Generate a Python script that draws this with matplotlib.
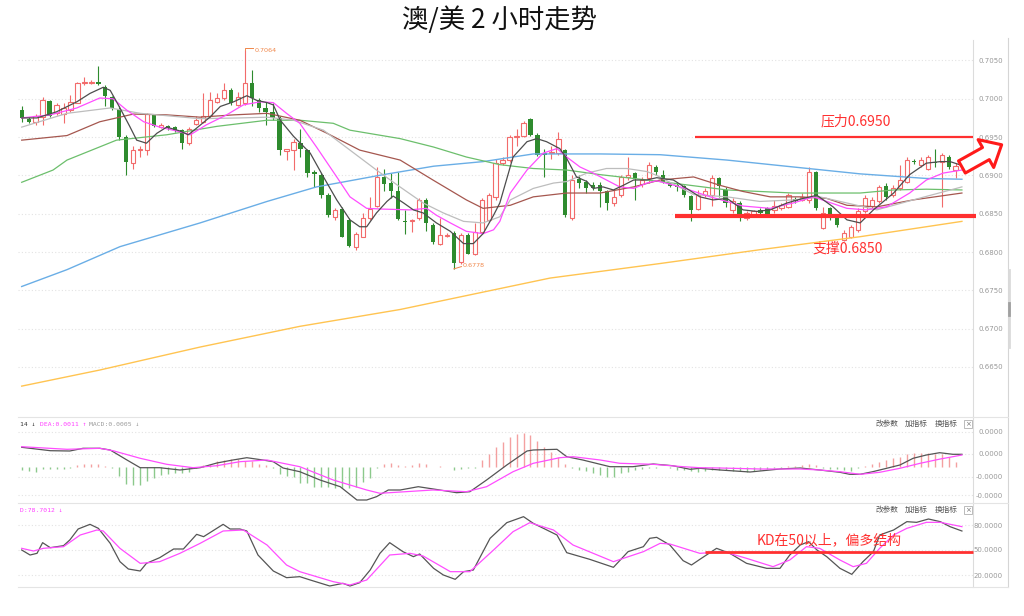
import numpy as np
import matplotlib
matplotlib.use('Agg')
import matplotlib.pyplot as plt

plt.rcParams['font.family'] = ['Noto Sans CJK SC', 'DejaVu Sans']

# ---- AUD/USD 2h candles, oldest on the left
opens = [.6985, .6974, .6970, .6976, .6997, .6981, .6980, .6985, .6995, .7020,
         .7020, .7022, .7016, .7002, .6986, .6950, .6916, .6933, .6933, .6979,
         .6963, .6965, .6963, .6959, .6942, .6967, .6970, .6977, .6996, .7001,
         .7011, .6992, .6994, .7020, .6998, .6988, .6983, .6975, .6932, .6933,
         .6942, .6933, .6905, .6900, .6874, .6846, .6856, .6842, .6807, .6820,
         .6844, .6860, .6898, .6890, .6880, .6841, .6841, .6844, .6868, .6835,
         .6811, .6821, .6825, .6787, .6822, .6798, .6826, .6842, .6872, .6916,
         .6920, .6950, .6951, .6973, .6953, .6929, .6929, .6929, .6933, .6844,
         .6895, .6892, .6887, .6887, .6879, .6864, .6874, .6898, .6903, .6889,
         .6896, .6911, .6900, .6890, .6887, .6886, .6873, .6856, .6874, .6874,
         .6896, .6881, .6855, .6864, .6844, .6848, .6855, .6857, .6855, .6857,
         .6859, .6869, .6868, .6868, .6905, .6831, .6857, .6844, .6816, .6820,
         .6829, .6853, .6860, .6866, .6886, .6874, .6883, .6892, .6919, .6914,
         .6909, .6918, .6918, .6924, .6907]
highs = [.6990, .6976, .6980, .7002, .6998, .6994, .6994, .7005, .7022, .7028,
         .7024, .7043, .7018, .7003, .6990, .6953, .6938, .6938, .6982, .6980,
         .6968, .6966, .6965, .6960, .6963, .6977, .7007, .7009, .7007, .7020,
         .7014, .7009, .7064, .7038, .7001, .6996, .6994, .6977, .6935, .6948,
         .6961, .6935, .6907, .6903, .6877, .6857, .6859, .6844, .6826, .6851,
         .6872, .6911, .6909, .6903, .6905, .6855, .6843, .6871, .6870, .6838,
         .6844, .6825, .6827, .6825, .6825, .6838, .6870, .6877, .6922, .6924,
         .6953, .6960, .6971, .6975, .6955, .6934, .6938, .6957, .6934, .6901,
         .6901, .6894, .6891, .6892, .6881, .6881, .6901, .6924, .6905, .6898,
         .6918, .6914, .6907, .6892, .6892, .6887, .6874, .6881, .6883, .6901,
         .6898, .6885, .6870, .6866, .6853, .6855, .6857, .6859, .6868, .6864,
         .6877, .6872, .6877, .6911, .6906, .6859, .6859, .6848, .6829, .6835,
         .6857, .6874, .6872, .6887, .6890, .6887, .6914, .6924, .6921, .6924,
         .6926, .6935, .6929, .6927, .6916]
lows = [.6970, .6968, .6966, .6966, .6976, .6979, .6968, .6983, .6994, .7018,
        .7019, .7018, .6990, .6985, .6946, .6901, .6909, .6924, .6927, .6963,
        .6962, .6959, .6957, .6935, .6940, .6966, .6968, .6975, .6994, .6998,
        .6992, .6990, .6992, .6990, .6983, .6966, .6972, .6927, .6920, .6907,
        .6924, .6898, .6885, .6870, .6846, .6842, .6819, .6807, .6803, .6819,
        .6842, .6859, .6879, .6870, .6842, .6824, .6826, .6842, .6827, .6811,
        .6809, .6819, .6778, .6785, .6797, .6796, .6825, .6840, .6868, .6914,
        .6918, .6938, .6950, .6951, .6925, .6898, .6922, .6927, .6846, .6842,
        .6883, .6877, .6881, .6859, .6855, .6860, .6872, .6894, .6868, .6885,
        .6890, .6900, .6890, .6885, .6879, .6872, .6840, .6855, .6872, .6860,
        .6872, .6859, .6851, .6840, .6842, .6846, .6848, .6846, .6851, .6855,
        .6857, .6864, .6866, .6864, .6855, .6830, .6842, .6833, .6814, .6818,
        .6826, .6851, .6858, .6864, .6868, .6872, .6881, .6890, .6915, .6911,
        .6907, .6911, .6859, .6909, .6896]
closes = [.6975, .6970, .6977, .6999, .6977, .6992, .6988, .6996, .7021, .7022,
          .7022, .7019, .7003, .6988, .6950, .6918, .6933, .6935, .6980, .6965,
          .6966, .6962, .6959, .6942, .6960, .6972, .6977, .6998, .7001, .7011,
          .6994, .7002, .7021, .7001, .6988, .6983, .6975, .6933, .6934, .6943,
          .6934, .6903, .6902, .6874, .6848, .6855, .6820, .6808, .6824, .6844,
          .6856, .6898, .6889, .6880, .6843, .6839, .6842, .6868, .6838, .6813,
          .6822, .6822, .6786, .6822, .6798, .6826, .6868, .6874, .6916, .6920,
          .6950, .6951, .6969, .6953, .6927, .6927, .6931, .6948, .6848, .6894,
          .6890, .6883, .6883, .6879, .6864, .6872, .6898, .6901, .6896, .6894,
          .6914, .6905, .6892, .6886, .6885, .6874, .6855, .6874, .6879, .6896,
          .6886, .6864, .6866, .6848, .6851, .6853, .6851, .6850, .6860, .6861,
          .6874, .6866, .6872, .6905, .6857, .6851, .6848, .6835, .6825, .6833,
          .6853, .6870, .6868, .6885, .6872, .6883, .6894, .6920, .6917, .6920,
          .6924, .6916, .6927, .6911, .6912]

# moving averages (bar index, price)
ma5_x = [0, 2.2, 5.0, 7.9, 9.8, 11.7, 12.7, 14.1, 15.5, 16.5, 17.9, 19.4, 20.8, 22.7, 23.9,
         24.6, 27.0, 28.5, 30.4, 32.3, 33.7, 35.2, 36.1, 37.1, 39.0, 41.4, 43.3, 45.2, 47.1, 48.5,
         49.5, 50.9, 52.4, 53.3, 54.8, 56.2, 57.6, 59.5, 61.5, 63.4, 64.8, 66.2, 67.7, 68.6, 70.5,
         72.5, 73.9, 75.3, 77.2, 78.2, 79.6, 81.1, 82.0, 83.4, 84.9, 86.3, 87.8, 89.7, 91.1, 93.5,
         95.4, 97.3, 99.2, 101.2, 103.5, 105.5, 107.4, 109.8, 112.1, 114.1, 116.4, 118.4, 120.3,
         122.2, 125.1, 127.4, 129.8, 131.8, 133.2, 134.9]
ma5_y = [.6975, .6975, .6983, .6996, .7007, .7015, .7011, .6988, .6964, .6946, .6942, .6955, .6963, .6958, .6953,
         .6958, .6976, .6990, .6996, .7004, .6998, .6995, .6992, .6972, .6951, .6929, .6898, .6868, .6842, .6833,
         .6833, .6851, .6866, .6873, .6864, .6855, .6851, .6838, .6827, .6811, .6811, .6824, .6848, .6864, .6924,
         .6944, .6948, .6944, .6935, .6922, .6898, .6892, .6883, .6885, .6881, .6887, .6894, .6894, .6897, .6894,
         .6883, .6872, .6868, .6870, .6855, .6853, .6855, .6864, .6870, .6874, .6859, .6842, .6838,
         .6855, .6877, .6901, .6916, .6918, .6918, .6913]
ma10_x = [0, 4.1, 7.9, 11.2, 13.1, 15.1, 17.5, 19.8, 22.2, 24.2, 26.5, 29.4, 31.8, 34.2, 36.1,
          38.0, 39.9, 42.3, 45.2, 47.1, 49.5, 51.9, 55.7, 58.1, 59.5, 61.5, 63.8, 66.2, 67.7, 68.6,
          70.1, 72.5, 74.8, 76.8, 78.2, 80.1, 82.0, 83.9, 85.8, 87.8, 89.7, 91.1, 94.5, 98.8, 103.5,
          107.4, 110.7, 113.6, 115.5, 118.4, 121.2, 124.1, 127.4, 129.8, 132.2, 134.9]
ma10_y = [.6975, .6979, .6988, .7001, .7000, .6985, .6970, .6963, .6958, .6953, .6966, .6979, .6992, .6996, .6995,
          .6981, .6968, .6937, .6898, .6872, .6857, .6856, .6855, .6857, .6848, .6838, .6827, .6824, .6829, .6840,
          .6877, .6907, .6929, .6935, .6924, .6911, .6903, .6894, .6885, .6883, .6890, .6893, .6885, .6872, .6860,
          .6857, .6864, .6872, .6866, .6857, .6855, .6859, .6877, .6894, .6903, .6907]
ma20_x = [0, 6.5, 12.7, 17.0, 25.6, 31.3, 35.2, 39.0, 43.3, 47.1, 50.9, 53.8, 57.6, 60.5, 63.4,
          66.2, 68.6, 70.1, 73.4, 76.3, 78.2, 81.1, 83.9, 86.8, 89.7, 91.1, 96.4, 101.2, 105.9, 110.7,
          114.5, 118.4, 122.7, 127.9, 134.9]
ma20_y = [.6963, .6981, .6988, .6981, .6974, .6975, .6976, .6972, .6959, .6933, .6907, .6888, .6864, .6851, .6840,
          .6838, .6846, .6868, .6883, .6890, .6892, .6903, .6909, .6909, .6905, .6900, .6875, .6872, .6866, .6868,
          .6872, .6864, .6855, .6868, .6885]
ma30_x = [0, 6.5, 11.2, 16.0, 20.8, 25.6, 30.4, 35.2, 39.9, 43.8, 48.5, 54.3, 59.0, 63.8, 66.2,
          70.1, 73.4, 78.2, 83.0, 87.8, 91.6, 96.4, 100.2, 103.5, 107.4, 111.7, 115.5, 118.4, 122.7, 127.9,
          134.9]
ma30_y = [.6946, .6952, .6970, .6980, .6979, .6976, .6979, .6981, .6972, .6955, .6933, .6920, .6894, .6868, .6857,
          .6861, .6872, .6877, .6877, .6885, .6894, .6898, .6887, .6879, .6872, .6872, .6870, .6861, .6859, .6868,
          .6877]
ma60_x = [0, 4.5, 6.5, 13.6, 20.8, 28.0, 35.2, 39.9, 44.7, 47.1, 54.3, 59.1, 63.8, 68.6, 73.4,
          78.2, 83.0, 87.8, 91.6, 101.2, 110.7, 120.3, 125.1, 129.8, 134.9]
ma60_y = [.6891, .6907, .6920, .6946, .6953, .6964, .6972, .6972, .6968, .6959, .6948, .6937, .6924, .6914, .6909,
          .6907, .6901, .6896, .6892, .6881, .6877, .6877, .6881, .6882, .6881]
ma120_x = [0, 6.5, 14.1, 25.6, 35.2, 42.3, 51.9, 59.1, 66.2, 73.4, 83.0, 91.6, 101.2, 110.7, 120.3, 129.8, 134.9]
ma120_y = [.6755, .6777, .6807, .6838, .6866, .6885, .6901, .6912, .6918, .6928, .6928, .6927, .6920, .6911,
           .6902, .6896, .6895]
ma250_x = [0, 11.2, 25.6, 39.9, 54.3, 75.8, 91.6, 105.9, 120.3, 134.9]
ma250_y = [.6625, .6646, .6676, .6703, .6725, .6766, .6785, .6803, .6820, .6840]

# MACD panel (units of 0.00001)
macd_hist = [-3.7, -4.3, -5, -2.7, -2.7, -2.7, -2.7, -1.7, 1.7, 2.3,
             3, 2.3, 0.5, -1.7, -9.3, -17, -18.3, -18.7, -14.3, -11,
             -8.3, -7, -6, -6, -5, -1, 1.7, 3, 5.7, 6.3,
             7.3, 7.3, 5.7, 5.7, 3, 1.7, -1, -7, -9.3, -10.3,
             -16.7, -16.7, -20, -20, -20, -21, -21, -21.7, -20, -15,
             -11.7, -1.7, 2.3, 3.3, 1.7, 1, 1.7, 4, 2.3, 0,
             0.7, 0, -3.3, -2.3, -1.7, -1, 6.7, 12.3, 20, 25,
             30, 32.3, 33.3, 31.7, 25.7, 20, 15, 10, 2.3, -1.7,
             -3.3, -4.3, -6.7, -8.3, -10, -10, -6.7, -5, -3.3, -2.3,
             -1.7, -1, -0.7, -1.7, -3.3, -3.3, -4.3, -5, -4.5, -3.5,
             -3, -3.5, -4, -4.5, -5, -4.5, -3.5, -2.5, -1.5, -1,
             0.5, 1, 1.5, 3, 1.5, -1, -2, -2.5, -3.3, -4.3,
             -1.7, 0.5, 2.3, 5, 6.7, 8.3, 10, 12.3, 13.3, 13.3,
             13.3, 12.3, 12.3, 10, 5]
dif_x = [0, 4.1, 6.9, 8.8, 11.2, 12.7, 15.1, 17.0, 19.8, 22.7, 25.6, 28.0, 30.3, 32.3, 34.6,
         36.1, 37.5, 39.9, 42.8, 45.7, 48.1, 49.5, 50.9, 52.6, 54.3, 56.9, 60.0, 62.4, 64.3, 66.7,
         69.6, 72.5, 73.4, 76.8, 78.2, 80.5, 84.4, 87.7, 90.6, 93.4, 95.9, 97.3, 100.2, 104.5, 108.8,
         111.7, 114.5, 117.4, 118.8, 120.3, 122.1, 124.1, 126.0, 127.9, 129.8, 131.7, 133.6, 134.9]
dif_y = [19.4, 16, 15.7, 18.4, 18.4, 16.7, 6.7, -1, -1, -3.3, -1, 3.7, 6.7, 9, 6.7,
         5, -1.3, -5, -13.3, -20, -33.3, -33.3, -30, -23.3, -23.3, -20, -23.3, -26, -25, -13.3,
         1.7, 15.7, 16.7, 17.4, 10, 6.7, 0, 0, 2.7, 1, -2.6, -1.6, -3.3, -5.3, -2.3,
         -1.3, -3.3, -5.6, -7.6, -7.6, -5, -1.6, 1.7, 8.4, 11.7, 14, 12.4, 12.4]
dea_x = [0, 6.5, 11.2, 13.1, 17.0, 20.8, 24.6, 28.0, 31.3, 35.2, 37.5, 39.9, 44.7, 49.5, 51.4,
         59.0, 63.8, 66.7, 70.5, 73.4, 77.2, 79.1, 83.0, 85.8, 90.6, 94.9, 97.3, 100.2, 105.9, 111.7,
         114.5, 117.4, 120.3, 123.1, 126.0, 128.9, 131.8, 133.6, 134.9]
dea_y = [20, 17.4, 18.4, 16, 8.4, 2.4, -1, 1, 5, 6.7, 3.4, 0, -13.3, -23.3, -26.6,
         -23.3, -25, -20, -5, 3.4, 9, 10, 6.7, 3.4, 2.4, 0, -1, -1.3, -2.3, -2.3,
         -3.3, -5, -7.6, -5.6, -1.6, 3.4, 7.7, 10, 11.7]

# KD panel
k_x = [0, 1.2, 2.2, 3.0, 4.1, 6.0, 6.9, 8.1, 9.8, 11.0, 12.7, 14.1, 15.3, 17.0, 17.9, 19.8, 21.8, 23.2, 25.1, 26.1,
       28.9, 29.9, 31.3, 32.3, 33.9, 36.1, 38.0, 39.9, 41.4, 44.2, 46.1, 47.1, 48.5, 50.0, 51.4, 52.8, 54.7, 56.2,
       57.1, 59.1, 60.5, 62.2, 63.4, 64.8, 67.2, 69.6, 72.0, 73.4, 76.8, 78.2, 81.5, 84.9, 87.0, 89.2, 90.1, 91.1,
       93.0, 94.9, 96.1, 97.3, 99.7, 101.6, 104.0, 106.9, 108.8, 110.2, 111.7, 112.9, 114.1, 115.5, 117.4, 119.1,
       120.7, 122.2, 123.1, 125.1, 127.0, 128.4, 130.1, 131.8, 133.2, 134.9]
k_y = [50, 44, 46, 58.8, 52.8, 55.2, 62, 75.2, 80.8, 76, 58, 36, 27.2, 24.8, 34, 40.8, 51.2, 51.2, 68.8, 66,
       80.8, 75.2, 75.2, 72.8, 44, 24.8, 16.8, 18, 14, 6.8, 10, 6.8, 10.8, 26, 46, 58.8, 48, 42,
       45.2, 28, 20, 14.8, 24, 26, 64, 82.8, 90, 82, 68, 46.8, 38.8, 29.2, 48, 54, 64, 65.2,
       56, 37.2, 32, 38.8, 52, 46, 34, 28, 28, 44, 56, 60, 50, 42, 28, 20.8,
       36, 48, 68, 74, 84, 83.2, 87.2, 84, 78, 72.8]
d_x = [0, 1.7, 3.1, 6.0, 8.4, 10.8, 11.7, 14.1, 17.0, 19.8, 22.7, 25.6, 28.9, 31.8, 35.2, 38.0, 39.9, 44.7,
       47.1, 49.5, 52.8, 55.7, 57.6, 61.5, 64.3, 67.7, 70.5, 72.9, 76.3, 79.1, 84.9, 89.2, 91.6, 93.0, 97.3,
       100.7, 104.0, 107.8, 110.2, 112.6, 114.5, 117.4, 119.3, 121.2, 123.1, 125.1, 127.0, 129.8, 131.8, 134.9]
d_y = [52, 48.8, 52, 54, 68, 74, 72.8, 52, 34, 36, 46, 58, 72.8, 74, 56, 32, 24, 12,
       8, 14, 44, 46, 42.8, 24, 24, 50, 72, 82.8, 74, 56, 36, 48, 58, 57.2, 46,
       48, 40, 30, 38, 54, 52, 38, 30, 34, 52, 68, 76, 83.2, 83.2, 78]

price_ticks = [0.6650, 0.6700, 0.6750, 0.6800, 0.6850, 0.6900, 0.6950, 0.7000, 0.7050]
resist_level, resist_from = 0.6950, 96.6
support_level, support_from = 0.6847, 93.7
kd_level, kd_from = 47.6, 98.0

#%%
W, H = 1024, 616
fig = plt.figure(figsize=(W / 100, H / 100), dpi=100)


def box(l, t, r, b):
    return [l / W, 1 - b / H, (r - l) / W, (b - t) / H]


ax = fig.add_axes(box(18, 40, 973, 417))
ax_m = fig.add_axes(box(18, 417, 973, 503))
ax_k = fig.add_axes(box(18, 503, 973, 587))

red = '#f26b6b'
green = '#2e8b2e'
o, h, l, c = (np.array(v) for v in (opens, highs, lows, closes))
idx = np.arange(len(c))
up = c >= o
body = np.maximum(np.abs(c - o), 0.00003)
bot = np.minimum(o, c)
ax.vlines(idx[up], l[up], h[up], color=red, lw=0.8, zorder=3)
ax.vlines(idx[~up], l[~up], h[~up], color=green, lw=0.8, zorder=3)
ax.bar(idx[up], body[up], bottom=bot[up], width=0.62, facecolor='white', edgecolor=red, lw=0.8, zorder=4)
ax.bar(idx[~up], body[~up], bottom=bot[~up], width=0.62, color=green, lw=0, zorder=4)

ax.plot(ma250_x, ma250_y, color='#ffc451', lw=1.0, zorder=5)
ax.plot(ma120_x, ma120_y, color='#6aaee6', lw=1.0, zorder=5)
ax.plot(ma60_x, ma60_y, color='#6cbf6c', lw=0.9, zorder=5)
ax.plot(ma30_x, ma30_y, color='#a5574f', lw=0.9, zorder=5)
ax.plot(ma20_x, ma20_y, color='#bdbdbd', lw=0.9, zorder=5)
ax.plot(ma10_x, ma10_y, color='#ff4dff', lw=0.9, zorder=5)
ax.plot(ma5_x, ma5_y, color='#4d4d4d', lw=0.9, zorder=5)

# high / low markers
hi = int(np.argmax(h))
lo = int(np.argmin(l))
ax.plot([hi, hi, hi + 1.2], [h[hi], h[hi] + 0.0002, h[hi] + 0.0002], color='#f0874a', lw=0.7, zorder=6)
ax.text(hi + 1.4, h[hi] - 0.00005, f'{h[hi]:.4f}', color='#f0874a', fontsize=4.6,
        family='DejaVu Sans', va='center', ha='left')
ax.plot([lo, lo + 1.1], [l[lo], l[lo] + 0.0003], color='#f0874a', lw=0.7, zorder=6)
ax.text(lo + 1.3, l[lo] + 0.0004, f'{l[lo]:.4f}', color='#f0874a', fontsize=4.6,
        family='DejaVu Sans', va='center', ha='left')

# red markup
mark = '#ff3030'
ax.hlines(resist_level, resist_from, 136.5, color=mark, lw=1.6, zorder=7, clip_on=False)
ax.hlines(support_level, support_from, 136.9, color=mark, lw=3.0, zorder=7, clip_on=False)
ax.text(119.6, 0.6970, '压力0.6950', color=mark, fontsize=10, ha='center', va='center')
ax.text(118.5, 0.6805, '支撑0.6850', color=mark, fontsize=10, ha='center', va='center')
ax.annotate('', xy=(140.6, 0.6940), xytext=(134.9, 0.6911), annotation_clip=False,
            arrowprops=dict(arrowstyle='simple,head_length=0.65,head_width=1.15,tail_width=0.5',
                            fc='white', ec='#ff1a1a', lw=2.2, shrinkA=0, shrinkB=0,
                            mutation_scale=20, clip_on=False), zorder=8)

# MACD
hist = np.array(macd_hist)
hidx = np.arange(len(hist))
ax_m.vlines(hidx[hist > 0], 0, hist[hist > 0], color='#f4a0a0', lw=1.0)
ax_m.vlines(hidx[hist < 0], hist[hist < 0], 0, color='#8cc98c', lw=1.0)
ax_m.plot(dif_x, dif_y, color='#555555', lw=0.9)
ax_m.plot(dea_x, dea_y, color='#ff4dff', lw=0.9)

# KD
ax_k.plot(k_x, k_y, color='#555555', lw=0.9)
ax_k.plot(d_x, d_y, color='#ff4dff', lw=0.9)
ax_k.hlines(kd_level, kd_from, 136.5, color=mark, lw=2.0, zorder=7, clip_on=False)
ax_k.text(115.9, 61.2, 'KD在50以上，偏多结构', color=mark, fontsize=10, ha='center', va='center')

ax.set_ylim(0.65847, 0.70767)
ax_m.set_ylim(-36.3, 49.7)
ax_k.set_ylim(5.6, 106.4)

ax.set_yticks(price_ticks, [f'{p:.4f}' for p in price_ticks])
ax_m.set_yticks([35, 12.7, -10, -28.3], ['0.0000', '0.0000', '-0.0000', '-0.0000'])
ax_k.set_yticks([80, 50, 20], ['80.0000', '50.0000', '20.0000'])

for a in (ax, ax_m, ax_k):
    a.set_xlim(-0.53, 136.49)
    a.set_xticks([])
    a.set_facecolor('none')
    a.yaxis.tick_right()
    a.tick_params(axis='y', length=0, pad=21.6, labelsize=5, labelcolor='#999999')
    for t in a.get_yticklabels():
        t.set_ha('right')
        t.set_fontfamily('DejaVu Sans')
    a.grid(axis='y', color='#e3e3e3', lw=0.8, ls=(0, (1, 2)))
    for s in ('left', 'top', 'bottom'):
        a.spines[s].set_visible(False)
    a.spines['right'].set_color('#dcdcdc')
    a.spines['right'].set_linewidth(0.8)

# frame / separators
ov = fig.add_axes([0, 0, 1, 1])
ov.set_xlim(0, W)
ov.set_ylim(H, 0)
ov.axis('off')
ov.plot([1008, 1008], [38, 587], color='#d5d5d5', lw=0.8)
for yy in (417, 503, 587):
    ov.plot([18, 1008], [yy, yy], color='#e4e4e4', lw=0.8)
ov.plot([1009, 1009], [270, 347], color='#dadada', lw=2)
ov.plot([1009, 1009], [303, 315], color='#a0a0a0', lw=2)

fig.text(499 / W, 1 - 20 / H, '澳/美 2 小时走势', fontsize=19, ha='center', va='center', color='#111111')

mono = 'DejaVu Sans Mono'
fig.text(20 / W, 1 - 424 / H, '14 ↓', fontsize=4.6, family=mono, color='#333333', va='center')
fig.text(40 / W, 1 - 424 / H, 'DEA:0.0011 ↑', fontsize=4.6, family=mono, color='#ff40ff', va='center')
fig.text(89 / W, 1 - 424 / H, 'MACD:0.0005 ↓', fontsize=4.6, family=mono, color='#9a9a9a', va='center')
fig.text(20 / W, 1 - 510 / H, 'D:78.7012 ↓', fontsize=4.6, family=mono, color='#ff40ff', va='center')

for yy in (424, 510):
    for xx, s in ((876, '改参数'), (905, '加指标'), (935, '换指标')):
        fig.text(xx / W, 1 - yy / H, s, fontsize=5.5, color='#555555', va='center')
    fig.text(968 / W, 1 - yy / H, '×', fontsize=5, color='#777777', va='center', ha='center',
             family='DejaVu Sans',
             bbox=dict(boxstyle='square,pad=0.15', fc='white', ec='#b0b0b0', lw=0.6))

fig.savefig('out.png', dpi=100, facecolor='white')
